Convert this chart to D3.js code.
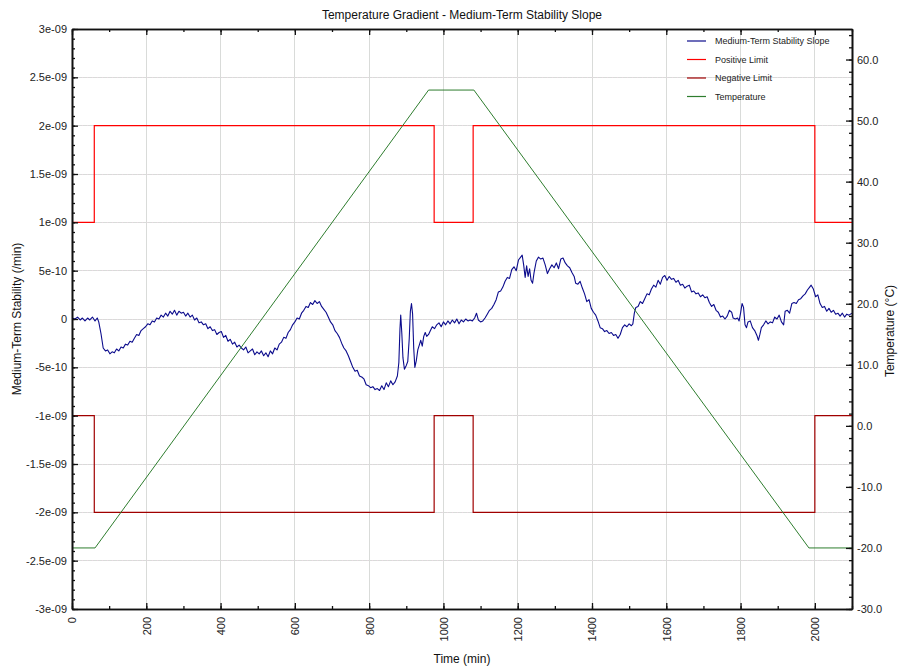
<!DOCTYPE html>
<html><head><meta charset="utf-8">
<script src="https://cdn.jsdelivr.net/npm/d3@7"></script>
<style>
body{margin:0;background:#fff;}
svg{display:block;font-family:Arial,"Liberation Sans",sans-serif;}
</style></head>
<body>
<svg id="chart" width="899" height="671"></svg>
<script>
// ---- DATA ----
const titleText = "Temperature Gradient - Medium-Term Stability Slope";
const xLabel = "Time (min)";
const yLeftLabel = "Medium-Term Stability (/min)";
const yRightLabel = "Temperature (°C)";
const seriesNames = ["Medium-Term Stability Slope","Positive Limit","Negative Limit","Temperature"];

const xTickValues = [0,200,400,600,800,1000,1200,1400,1600,1800,2000];
const leftTickValues = [3e-9,2.5e-9,2e-9,1.5e-9,1e-9,5e-10,0,-5e-10,-1e-9,-1.5e-9,-2e-9,-2.5e-9,-3e-9];
const leftTickLabels = ["3e-09","2.5e-09","2e-09","1.5e-09","1e-09","5e-10","0","-5e-10","-1e-09","-1.5e-09","-2e-09","-2.5e-09","-3e-09"];
const rightTickValues = [-30,-20,-10,0,10,20,30,40,50,60];
const rightTickLabels = ["-30.0","-20.0","-10.0","0.0","10.0","20.0","30.0","40.0","50.0","60.0"];

// limit step changes (time, value)
const limitTimes = [0,60,975,1080,2000,2100];
const positiveLimit = [1e-9,2e-9,1e-9,2e-9,1e-9,1e-9];
const negativeLimit = [-1e-9,-2e-9,-1e-9,-2e-9,-1e-9,-1e-9];

// temperature profile
const tempTimes = [0,62,960,1082,1984,2100];
const tempValues = [-20,-20,55,55,-20,-20];

// medium-term stability slope, [time (min), value in units of 1e-10 /min]
const slopeData = [[0,0.1],[8,0.0],[15,0.2],[22,-0.1],[28,0.1],[35,-0.2],[42,0.1],[48,-0.1],[55,0.2],[62,-0.2],[68,0.1],[72,-0.3],
[78,-1.5],[84,-3.0],[90,-3.3],[96,-3.2],[102,-3.6],[108,-3.4],[114,-3.5],[120,-3.1],[126,-3.3],[132,-2.9],[138,-3.0],[144,-2.6],[150,-2.7],[156,-2.3],[162,-2.4],[168,-2.0],[174,-1.6],[180,-1.7],[186,-1.2],[192,-1.0],[198,-0.8],[204,-0.5],[210,-0.6],[216,-0.2],[222,-0.3],[228,0.1],[234,0.0],[240,0.4],[246,0.2],[252,0.6],[258,0.3],[264,0.8],[270,0.5],[276,0.9],[282,0.4],[288,0.8],[294,0.6],[300,0.7],[306,0.3],[312,0.6],[318,0.2],[324,0.4],[330,-0.1],[336,0.1],[342,-0.4],[348,-0.3],[354,-0.6],[360,-0.5],[366,-1.0],[372,-0.8],[378,-1.2],[384,-1.1],[390,-1.6],[396,-1.4],[402,-1.3],[408,-1.9],[414,-1.7],[420,-2.3],[426,-2.1],[432,-2.6],[438,-2.4],[444,-2.9],[450,-2.7],[456,-3.0],[462,-3.2],[468,-2.9],[474,-3.5],[480,-3.3],[486,-3.1],[492,-3.7],[498,-3.4],[504,-3.6],[510,-3.3],[516,-3.8],[522,-3.5],[528,-3.9],[534,-3.3],[540,-3.6],[546,-3.0],[552,-3.2],[558,-2.6],[564,-2.4],[570,-1.9],[576,-2.0],[582,-1.4],[588,-1.1],[594,-0.6],[600,-0.3],[606,0.1],[612,0.0],[618,0.6],[624,0.9],[630,1.3],[636,1.2],[642,1.7],[648,1.5],[654,1.9],[660,1.6],[666,1.8],[672,1.3],[678,1.0],[684,0.7],[690,0.2],[696,-0.3],[702,-0.6],[708,-1.2],[714,-1.5],[720,-1.9],[726,-2.5],[732,-3.0],[738,-3.3],[744,-3.8],[750,-4.4],[756,-5.0],[762,-5.4],[768,-5.3],[774,-5.9],[780,-6.0],[786,-6.2],[792,-6.8],[798,-6.9],[804,-7.1],[810,-7.0],[816,-7.3],[822,-7.2],[828,-7.4],[834,-6.9],[840,-7.3],[846,-6.6],[852,-7.0],[858,-6.4],[864,-6.8],[870,-6.5],[876,-5.9],[880,-4.5],[883,-1.0],[885,0.4],[888,-1.5],[891,-4.0],[895,-5.2],[900,-4.8],[904,-4.4],[908,-2.0],[911,0.8],[914,1.6],[917,0.5],[920,-3.0],[923,-5.0],[927,-4.3],[931,-3.2],[935,-2.7],[939,-2.2],[943,-2.8],[947,-1.8],[951,-1.4],[955,-1.8],[960,-1.6],[965,-1.2],[970,-0.8],[976,-1.0],[982,-0.6],[988,-0.4],[994,-0.8],[1000,-0.3],[1006,-0.6],[1012,-0.2],[1018,-0.5],[1024,-0.1],[1030,-0.4],[1036,0.0],[1042,-0.5],[1048,-0.1],[1054,-0.3],[1060,0.0],[1066,-0.2],[1072,-0.1],[1078,-0.2],[1084,0.1],[1089,0.6],[1094,-0.1],[1100,-0.3],[1106,-0.2],[1112,0.1],[1118,0.5],[1124,0.9],[1130,1.1],[1136,1.5],[1142,2.0],[1148,2.8],[1154,2.9],[1160,3.3],[1166,3.9],[1172,4.3],[1178,4.2],[1184,5.1],[1190,5.4],[1196,5.0],[1202,6.1],[1208,6.4],[1212,6.6],[1216,5.6],[1220,4.3],[1224,5.5],[1228,4.4],[1232,5.2],[1236,4.0],[1240,3.7],[1244,4.8],[1250,6.0],[1256,6.4],[1262,6.2],[1268,6.3],[1274,5.6],[1280,4.7],[1286,5.2],[1292,5.6],[1298,5.3],[1304,5.8],[1310,5.2],[1316,6.2],[1322,6.3],[1328,5.8],[1334,5.5],[1340,5.3],[1346,4.8],[1352,4.4],[1356,3.7],[1362,3.6],[1368,3.9],[1374,3.2],[1380,2.6],[1386,1.8],[1392,2.0],[1398,1.1],[1404,0.7],[1410,0.4],[1416,-0.2],[1422,-0.9],[1428,-1.0],[1434,-1.3],[1440,-1.2],[1446,-1.5],[1452,-1.4],[1458,-1.7],[1464,-1.6],[1470,-2.0],[1476,-1.6],[1482,-0.9],[1488,-0.6],[1494,-0.8],[1500,-0.5],[1506,-0.7],[1510,-0.5],[1514,0.6],[1518,1.2],[1524,1.3],[1530,1.8],[1536,1.6],[1542,2.1],[1548,2.6],[1554,2.5],[1560,3.1],[1566,3.5],[1572,3.3],[1578,4.0],[1584,3.6],[1590,4.3],[1596,4.5],[1602,4.0],[1608,4.4],[1614,4.1],[1620,4.2],[1626,3.8],[1632,4.0],[1638,3.5],[1644,3.6],[1650,3.2],[1656,3.4],[1662,3.5],[1668,2.8],[1674,2.9],[1680,2.6],[1686,2.7],[1692,2.3],[1698,2.5],[1704,2.2],[1710,2.3],[1716,1.7],[1722,1.3],[1728,1.5],[1734,0.9],[1740,0.7],[1746,0.2],[1752,0.3],[1758,0.0],[1764,0.3],[1770,0.9],[1776,0.7],[1780,0.1],[1786,0.0],[1792,0.1],[1796,-0.2],[1800,0.6],[1804,1.6],[1808,1.2],[1812,-0.6],[1816,-0.9],[1820,-0.3],[1826,-0.2],[1832,-0.9],[1838,-1.2],[1844,-1.7],[1848,-2.2],[1852,-1.6],[1856,-0.9],[1862,-0.6],[1868,-0.2],[1874,-0.5],[1880,-0.3],[1886,-0.4],[1892,0.2],[1898,0.0],[1904,0.4],[1910,-0.3],[1916,-0.6],[1920,0.8],[1926,0.9],[1932,0.6],[1938,1.6],[1944,1.7],[1950,1.6],[1956,2.0],[1962,2.1],[1968,2.4],[1974,2.6],[1980,3.0],[1986,3.3],[1990,3.5],[1996,3.1],[2002,2.3],[2008,2.5],[2014,1.6],[2020,1.2],[2026,1.3],[2032,0.8],[2038,1.1],[2044,0.7],[2050,0.9],[2056,0.5],[2062,0.6],[2068,0.3],[2074,0.6],[2080,0.2],[2086,0.5],[2092,0.4],[2100,0.6]];
const slopeUnit = 1e-10;

// ---- LAYOUT ----
const svg = d3.select("#chart");
const L = 72, R = 852, T = 29, B = 609;
const x = d3.scaleLinear().domain([0,2100]).range([L,R]);
const yL = d3.scaleLinear().domain([-3e-9,3e-9]).range([B,T]);
const yR = d3.scaleLinear().domain([-30,65]).range([B,T]);
const colors = {slope:"#0b0b8c", pos:"#ff0000", neg:"#a00000", temp:"#2e7d2e"};

// grid
const grid = svg.append("g");
grid.selectAll("line.v").data(xTickValues.filter(v=>v>0)).join("line")
  .attr("x1",d=>x(d)).attr("x2",d=>x(d)).attr("y1",T).attr("y2",B)
  .attr("stroke","#d9dbd9").attr("stroke-width",1).attr("shape-rendering","crispEdges");
grid.selectAll("line.h").data(leftTickValues.filter(v=>Math.abs(v)<2.9e-9)).join("line")
  .attr("x1",L).attr("x2",R).attr("y1",d=>yL(d)).attr("y2",d=>yL(d))
  .attr("stroke","#d9dbd9").attr("stroke-width",1).attr("shape-rendering","crispEdges");
grid.selectAll("line.hd").data(leftTickValues.filter(v=>Math.abs(v)<2.9e-9)).join("line")
  .attr("x1",L).attr("x2",R).attr("y1",d=>yL(d)).attr("y2",d=>yL(d))
  .attr("stroke","#e8d8e2").attr("stroke-width",1).attr("stroke-dasharray","1,4").attr("shape-rendering","crispEdges");

// series
const clip = svg.append("clipPath").attr("id","clip").append("rect")
  .attr("x",L).attr("y",T).attr("width",R-L).attr("height",B-T);
const plot = svg.append("g").attr("clip-path","url(#clip)");

const slopeLine = d3.line().x(d=>x(d[0])).y(d=>yL(d[1]*slopeUnit));
plot.append("path").datum(slopeData).attr("d",slopeLine)
  .attr("fill","none").attr("stroke",colors.slope).attr("stroke-width",1.1).attr("stroke-linejoin","round");

const stepLine = d3.line().curve(d3.curveStepAfter).x(d=>x(d[0])).y(d=>yL(d[1]));
plot.append("path").datum(limitTimes.map((t,i)=>[t,positiveLimit[i]])).attr("d",stepLine)
  .attr("fill","none").attr("stroke",colors.pos).attr("stroke-width",1.2);
plot.append("path").datum(limitTimes.map((t,i)=>[t,negativeLimit[i]])).attr("d",stepLine)
  .attr("fill","none").attr("stroke",colors.neg).attr("stroke-width",1.2);

const tempLine = d3.line().x(d=>x(d[0])).y(d=>yR(d[1]));
plot.append("path").datum(tempTimes.map((t,i)=>[t,tempValues[i]])).attr("d",tempLine)
  .attr("fill","none").attr("stroke",colors.temp).attr("stroke-width",1);

// axes
function styleAxis(g){
  g.selectAll(".domain").attr("stroke","#111").attr("stroke-width",1.6);
  g.selectAll(".tick line").attr("stroke","#111").attr("stroke-width",1.3);
  g.selectAll("text").attr("fill","#222").style("font-size","11px").style("font-family","Arial,'Liberation Sans',sans-serif");
}
// left
svg.append("g").attr("transform",`translate(${L},0)`)
  .call(d3.axisLeft(yL).tickValues(d3.range(-30,31,1).map(k=>k*1e-10)).tickSizeInner(-3).tickSizeOuter(0).tickFormat(""))
  .call(styleAxis);
svg.append("g").attr("transform",`translate(${L},0)`)
  .call(d3.axisLeft(yL).tickValues(leftTickValues).tickSizeInner(-6).tickSizeOuter(0).tickPadding(5)
    .tickFormat((d,i)=>leftTickLabels[i]))
  .call(styleAxis);
// right
svg.append("g").attr("transform",`translate(${R},0)`)
  .call(d3.axisRight(yR).tickValues(d3.range(-30,65,2)).tickSizeInner(-3).tickSizeOuter(0).tickFormat(""))
  .call(styleAxis);
svg.append("g").attr("transform",`translate(${R},0)`)
  .call(d3.axisRight(yR).tickValues(rightTickValues).tickSizeInner(-6).tickSizeOuter(0).tickPadding(5)
    .tickFormat((d,i)=>rightTickLabels[i]))
  .call(styleAxis);
// bottom
svg.append("g").attr("transform",`translate(0,${B})`)
  .call(d3.axisBottom(x).tickValues(d3.range(0,2101,100)).tickSizeInner(-3).tickSizeOuter(0).tickFormat(""))
  .call(styleAxis);
const bx = svg.append("g").attr("transform",`translate(0,${B})`)
  .call(d3.axisBottom(x).tickValues(xTickValues).tickSizeInner(-6).tickSizeOuter(0).tickFormat(d=>String(d)))
  .call(styleAxis);
bx.selectAll(".tick text").attr("transform","rotate(-90)").attr("text-anchor","end")
  .attr("x",-8).attr("y",0).attr("dy","0.35em");
// top
svg.append("g").attr("transform",`translate(0,${T})`)
  .call(d3.axisTop(x).tickValues(d3.range(0,2101,100)).tickSizeInner(-3).tickSizeOuter(0).tickFormat(""))
  .call(styleAxis);
svg.append("g").attr("transform",`translate(0,${T})`)
  .call(d3.axisTop(x).tickValues(xTickValues).tickSizeInner(-6).tickSizeOuter(0).tickFormat(""))
  .call(styleAxis);

// titles
svg.append("text").attr("x",462).attr("y",19).attr("text-anchor","middle")
  .style("font-size","12px").attr("fill","#111").text(titleText);
svg.append("text").attr("x",462).attr("y",663).attr("text-anchor","middle")
  .style("font-size","12px").attr("fill","#111").text(xLabel);
svg.append("text").attr("transform",`translate(21,${(T+B)/2}) rotate(-90)`).attr("text-anchor","middle")
  .style("font-size","12px").attr("fill","#111").text(yLeftLabel);
svg.append("text").attr("transform",`translate(894,${(T+B)/2+12}) rotate(-90)`).attr("text-anchor","middle")
  .style("font-size","12px").attr("fill","#111").text(yRightLabel);

// legend
const legColors = [colors.slope, colors.pos, colors.neg, colors.temp];
const leg = svg.append("g").attr("transform","translate(687,41)");
seriesNames.forEach((n,i)=>{
  const g = leg.append("g").attr("transform",`translate(0,${i*18.5})`);
  g.append("line").attr("x1",0).attr("x2",19).attr("y1",0).attr("y2",0)
    .attr("stroke",legColors[i]).attr("stroke-width",1.2);
  g.append("text").attr("x",28).attr("y",0).attr("dy","0.35em")
    .style("font-size","9px").attr("fill","#222").text(n);
});
</script>
</body></html>
